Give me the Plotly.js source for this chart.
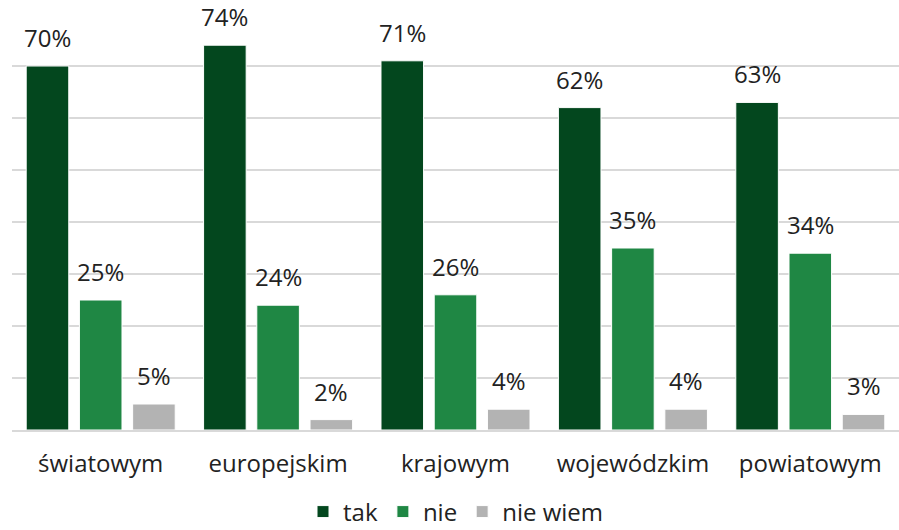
<!DOCTYPE html>
<html><head><meta charset="utf-8">
<script src="https://cdn.plot.ly/plotly-3.0.1.min.js"></script>
<style>body{margin:0}#c{width:899px;height:530px}</style>
</head><body><div id="c"></div>
<script>
const categories = ["światowym","europejskim","krajowym","wojewódzkim","powiatowym"];
const seriesNames = ["tak","nie","nie wiem"];
const tak = [70,74,71,62,63];
const nie = [25,24,26,35,34];
const nieWiem = [5,2,4,4,3];
const colors = ["#03471E","#1F8744","#B3B3B3"];
const allSeries = [tak, nie, nieWiem];
const bargap = 0.1;

const traces = allSeries.map((vals,i)=>({
  type:'bar', name:seriesNames[i], x:categories, y:vals,
  marker:{color:colors[i], line:{color:'#ffffff', width:1}},
  hoverinfo:'none'
}));

const slot = (1-bargap)/allSeries.length;
const annotations = [];
allSeries.forEach((vals,i)=>{
  vals.forEach((v,k)=>{
    annotations.push({x:k + (i-1)*slot, y:v, xref:'x', yref:'y', text:v+'%', showarrow:false,
      yanchor:'bottom', yshift:10, font:{size:24, color:'#222'}});
  });
});

const layout = {
  width:899, height:530,
  margin:{l:12, r:0, t:14, b:100},
  paper_bgcolor:'#fff', plot_bgcolor:'#fff',
  font:{family:'Open Sans', size:24, color:'#222'},
  barmode:'group', bargap:bargap, bargroupgap:0.2,
  xaxis:{type:'category', showgrid:false, ticks:'', showline:true, linecolor:'#d9d9d9', linewidth:2,
    tickfont:{size:24, color:'#222'}, ticklabelstandoff:11},
  yaxis:{range:[0,80], dtick:10, showgrid:true, gridcolor:'#d9d9d9', gridwidth:1.5,
    showticklabels:false, zeroline:false, fixedrange:true},
  showlegend:true,
  legend:{orientation:'h', x:0.5, xanchor:'center', yref:'container', y:0.034, yanchor:'middle',
    font:{size:24, color:'#222'}, itemwidth:30, traceorder:'normal'},
  annotations:annotations
};
Plotly.newPlot('c', traces, layout, {displayModeBar:false, staticPlot:true});
</script></body></html>
